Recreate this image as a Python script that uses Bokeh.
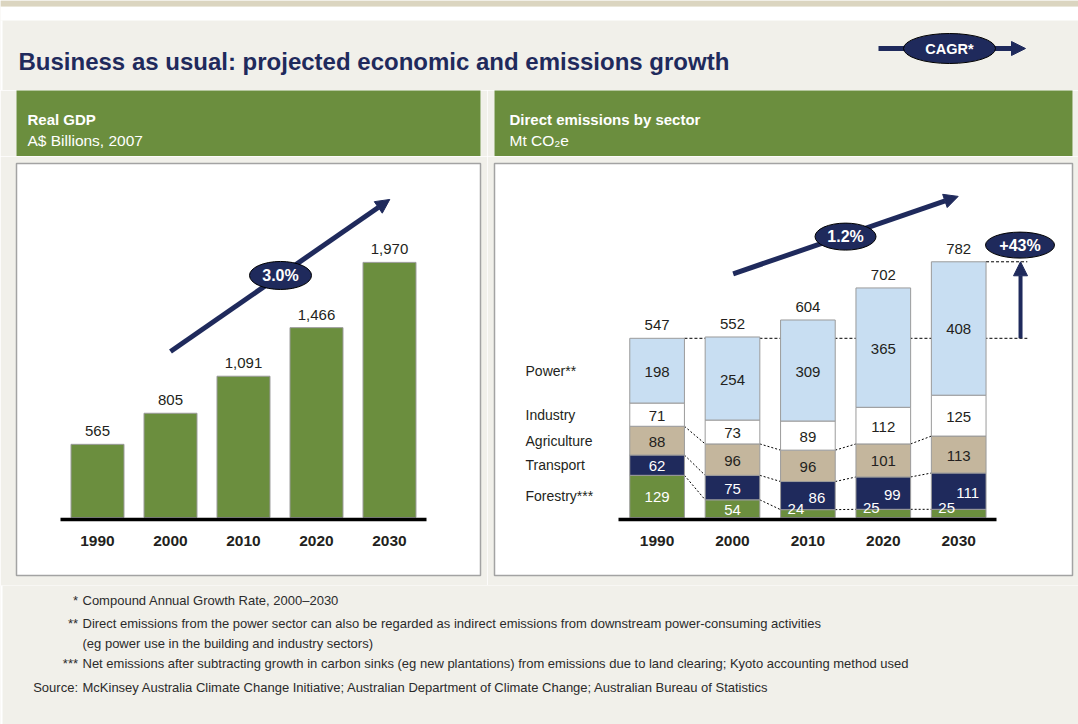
from bokeh.plotting import figure
from bokeh.layouts import column, row
from bokeh.models import Range1d, Arrow, NormalHead, ColumnDataSource, FixedTicker
from bokeh.core.properties import value
from bokeh.embed import file_html
from bokeh.resources import INLINE

# ---------------- data ----------------
years = ["1990", "2000", "2010", "2020", "2030"]
gdp = [565, 805, 1091, 1466, 1970]
gdp_labels = ["565", "805", "1,091", "1,466", "1,970"]

sector_names = ["Forestry***", "Transport", "Agriculture", "Industry", "Power**"]
forestry = [129, 54, 24, 25, 25]
transport = [62, 75, 86, 99, 111]
agriculture = [88, 96, 96, 101, 113]
industry = [71, 73, 89, 112, 125]
power = [198, 254, 309, 365, 408]
totals = [547, 552, 604, 702, 782]

gdp_cagr = "3.0%"
emissions_cagr = "1.2%"
emissions_growth = "+43%"

title_text = "Business as usual: projected economic and emissions growth"
left_header = ["Real GDP", "A$ Billions, 2007"]
right_header = ["Direct emissions by sector", "Mt CO\u2082e"]
foot_marks = ["*", "**", "", "***", "Source:"]
foot_texts = [
    "Compound Annual Growth Rate, 2000\u20132030",
    "Direct emissions from the power sector can also be regarded as indirect emissions from downstream power-consuming activities",
    "(eg power use in the building and industry sectors)",
    "Net emissions after subtracting growth in carbon sinks (eg new plantations) from emissions due to land clearing; Kyoto accounting method used",
    "McKinsey Australia Climate Change Initiative; Australian Department of Climate Change; Australian Bureau of Statistics",
]

# ---------------- style ----------------
GREEN = "#6b8e3e"
NAVY = "#1f2a5c"
TAN = "#c4b69d"
LIGHTBLUE = "#c8def2"
WHITE = "#ffffff"
BEIGE = "#f1f0ea"
STRIPE = "#dbd5c0"
OUTLINE = "#9b9b9b"
TEXT = "#231f20"
SANS = "Liberation Sans"

W = 1078


def blank(width, height, xr, yr):
    p = figure(width=width, height=height, x_range=xr, y_range=yr,
               output_backend="svg", toolbar_location=None, title=None,
               x_axis_type=None, y_axis_type=None, min_border=0)
    p.border_fill_color = BEIGE
    p.background_fill_color = BEIGE
    p.outline_line_color = None
    return p


# ---------------- title band ----------------
tf = blank(W, 90, Range1d(0, W), Range1d(90, 0))
tf.quad(left=[0], right=[W], top=[6], bottom=[20], fill_color=WHITE, line_color=None)
tf.quad(left=[0], right=[W], top=[0], bottom=[6], fill_color=STRIPE, line_color=None)
tf.quad(left=[0], right=[2], top=[20], bottom=[90], fill_color=WHITE, line_color=None)
tf.text(x=[18], y=[61], text=[title_text], text_font=value(SANS), text_font_style="bold",
        text_font_size="24px", text_color=NAVY, text_baseline="alphabetic")
tf.add_layout(Arrow(end=NormalHead(size=14, fill_color=NAVY, line_color=NAVY),
                    x_start=878, y_start=48, x_end=1025, y_end=48,
                    line_color=NAVY, line_width=5))
tf.ellipse(x=[949], y=[48], width=92, height=30, width_units="screen", height_units="screen",
           fill_color=NAVY, line_color="black", line_width=1, level="overlay")
tf.text(x=[949], y=[48], text=["CAGR*"], text_font=value(SANS), text_font_style="bold",
        text_font_size="14.5px", text_color="white", text_align="center",
        text_baseline="middle", level="overlay")


# ---------------- headers ----------------
def header(width, bl, br, lines, x0):
    fw = width - bl - br
    h = blank(width, 66, Range1d(0, fw), Range1d(66, 0))
    h.min_border_left = bl
    h.min_border_right = br
    h.background_fill_color = GREEN
    h.text(x=[x0], y=[29], text=[lines[0]], text_font=value(SANS), text_font_style="bold",
           text_font_size="15px", text_color="white", text_baseline="alphabetic")
    h.text(x=[x0], y=[50], text=[lines[1]], text_font=value(SANS),
           text_font_size="15.5px", text_color="white", text_baseline="alphabetic")
    return h


hl = header(487, 16, 7, left_header, 11)
hr = header(591, 7, 6, right_header, 15)


# ---------------- chart frames ----------------
def chart(width, bl, br, first_center_px, pitch_px, px_per_unit):
    fw = width - bl - br
    xr = Range1d(-first_center_px / pitch_px, (fw - first_center_px) / pitch_px)
    yr = Range1d(-58 / px_per_unit, 354 / px_per_unit)
    p = figure(width=width, height=429, x_range=xr, y_range=yr, output_backend="svg",
               toolbar_location=None, title=None, y_axis_type=None, min_border=0)
    p.min_border_left = bl
    p.min_border_right = br
    p.min_border_top = 7
    p.min_border_bottom = 10
    p.border_fill_color = BEIGE
    p.background_fill_color = WHITE
    p.outline_line_color = "#a3a3a3"
    p.outline_line_width = 1.5
    p.grid.visible = False
    ax = p.xaxis[0]
    ax.fixed_location = -1.8 / px_per_unit
    ax.ticker = FixedTicker(ticks=list(range(len(years))))
    ax.major_label_overrides = {i: y for i, y in enumerate(years)}
    ax.bounds = (-0.507, len(years) - 1 + 0.507)
    ax.axis_line_color = "black"
    ax.axis_line_width = 3.5
    ax.major_tick_line_color = None
    ax.minor_tick_line_color = None
    ax.major_label_standoff = 11
    ax.major_label_text_font = SANS
    ax.major_label_text_font_style = "bold"
    ax.major_label_text_font_size = "15.5px"
    ax.major_label_text_color = TEXT
    return p


xs = list(range(len(years)))

# ---- left: GDP ----
pl = chart(487, 16, 7, 81, 73, 0.1295)
gsrc = ColumnDataSource(dict(x=xs, top=gdp, label=gdp_labels))
pl.add_layout(Arrow(end=NormalHead(size=14, fill_color=NAVY, line_color=NAVY),
                    x_start=1.0, y_start=1282, x_end=4.004, y_end=2456,
                    line_color=NAVY, line_width=5))
pl.vbar(x="x", top="top", bottom=0, width=0.726, source=gsrc,
        fill_color=GREEN, line_color=OUTLINE, line_width=1)
pl.text(x="x", y="top", text="label", source=gsrc, text_font=value(SANS),
        text_font_size="15px", text_color=TEXT, text_align="center",
        text_baseline="middle", y_offset=-13)
pl.ellipse(x=[2.507], y=[1869], width=62, height=28, width_units="screen", height_units="screen",
           fill_color=NAVY, line_color="black", line_width=1, level="overlay")
pl.text(x=[2.507], y=[1869], text=[gdp_cagr], text_font=value(SANS), text_font_style="bold",
        text_font_size="16px", text_color="white", text_align="center",
        text_baseline="middle", level="overlay")

# ---- right: emissions ----
pitch_r = 75.4
pr = chart(591, 7, 6, 656.6 - 494, pitch_r, 0.327)
half = 0.725 / 2
stack_keys = ["forestry", "transport", "agriculture", "industry", "power"]
stack_vals = [forestry, transport, agriculture, industry, power]
stack_colors = [GREEN, NAVY, TAN, WHITE, LIGHTBLUE]
label_colors = ["white", "white", TEXT, TEXT, TEXT]
esrc = ColumnDataSource(dict(x=xs, **{k: v for k, v in zip(stack_keys, stack_vals)}))

# cumulative tops
cum = []
run = [0] * len(years)
for vals in stack_vals:
    run = [a + b for a, b in zip(run, vals)]
    cum.append(run)
stack_top = cum[-1]

# dashed reference lines (behind bars)
pr.segment(x0=[half, len(years) - 1 + half], y0=[stack_top[0], stack_top[-1]],
           x1=[4.91, 4.91], y1=[stack_top[0], stack_top[-1]],
           line_color="black", line_width=1, line_dash="3 2")
# connectors between bars for the lower three boundaries
cx0, cy0, cx1, cy1 = [], [], [], []
for k in range(3):
    for i in range(len(years) - 1):
        cx0.append(i + half); cy0.append(cum[k][i])
        cx1.append(i + 1 - half); cy1.append(cum[k][i + 1])
pr.segment(x0=cx0, y0=cy0, x1=cx1, y1=cy1, line_color="black", line_width=1, line_dash="2 2")

pr.vbar_stack(stack_keys, x="x", width=0.725, source=esrc,
              fill_color=stack_colors, line_color=OUTLINE, line_width=1)

# segment labels
lx, ly, lt, lc, lxo, lyo = [], [], [], [], [], []
for k, vals in enumerate(stack_vals):
    for i, v in enumerate(vals):
        base = cum[k][i] - v
        lx.append(i); ly.append(base + v / 2); lt.append(str(v)); lc.append(label_colors[k])
        small_forest = forestry[i] < 40
        if k == 0 and small_forest:
            lxo.append(-12); lyo.append(-5)
        elif k == 1 and small_forest:
            lxo.append(9); lyo.append(2)
        else:
            lxo.append(0); lyo.append(1)
lsrc = ColumnDataSource(dict(x=lx, y=ly, t=lt, c=lc, xo=lxo, yo=lyo))
pr.text(x="x", y="y", text="t", text_color="c", x_offset="xo", y_offset="yo", source=lsrc,
        text_font=value(SANS), text_font_size="15px", text_align="center", text_baseline="middle")

# totals
tsrc = ColumnDataSource(dict(x=xs, y=stack_top, t=[str(t) for t in totals]))
pr.text(x="x", y="y", text="t", source=tsrc, text_font=value(SANS), text_font_size="15px",
        text_color=TEXT, text_align="center", text_baseline="middle", y_offset=-13)

# sector names next to the first bar
name_y = [c[0] - v[0] / 2 for c, v in zip(cum, stack_vals)]
pr.text(x=[-1.745] * len(sector_names), y=name_y, text=sector_names, text_font=value(SANS),
        text_font_size="14px", text_color=TEXT, text_align="left", text_baseline="middle")

# CAGR arrow and growth arrow
pr.add_layout(Arrow(end=NormalHead(size=14, fill_color=NAVY, line_color=NAVY),
                    x_start=1.009, y_start=745, x_end=3.993, y_end=982,
                    line_color=NAVY, line_width=5))
pr.add_layout(Arrow(end=NormalHead(size=14, fill_color=NAVY, line_color=NAVY),
                    x_start=4.82, y_start=stack_top[0], x_end=4.82, y_end=stack_top[-1],
                    line_color=NAVY, line_width=4))
pr.ellipse(x=[2.499, 4.813], y=[859, 833], width=[61, 69], height=[27, 26],
           width_units="screen", height_units="screen",
           fill_color=NAVY, line_color="black", line_width=1, level="overlay")
pr.text(x=[2.499, 4.813], y=[859, 833], text=[emissions_cagr, emissions_growth],
        text_font=value(SANS), text_font_style="bold", text_font_size="16px",
        text_color="white", text_align="center", text_baseline="middle", level="overlay")

# ---------------- footer ----------------
ff = blank(W, 139, Range1d(0, W), Range1d(139, 0))
ff.quad(left=[0], right=[2], top=[0], bottom=[139], fill_color=WHITE, line_color=None)
fy = [15, 37.7, 57.7, 78.3, 101.7]
ff.text(x=[77.5] * 5, y=fy, text=foot_marks, text_font=value(SANS), text_font_size="13px",
        text_color="#2b2b2b", text_align="right", text_baseline="middle")
ff.text(x=[82] * 5, y=fy, text=foot_texts, text_font=value(SANS), text_font_size="13px",
        text_color="#2b2b2b", text_align="left", text_baseline="middle")

layout = column(tf, row(column(hl, pl), column(hr, pr)), ff)
open("out.html", "w").write(file_html(layout, INLINE))
